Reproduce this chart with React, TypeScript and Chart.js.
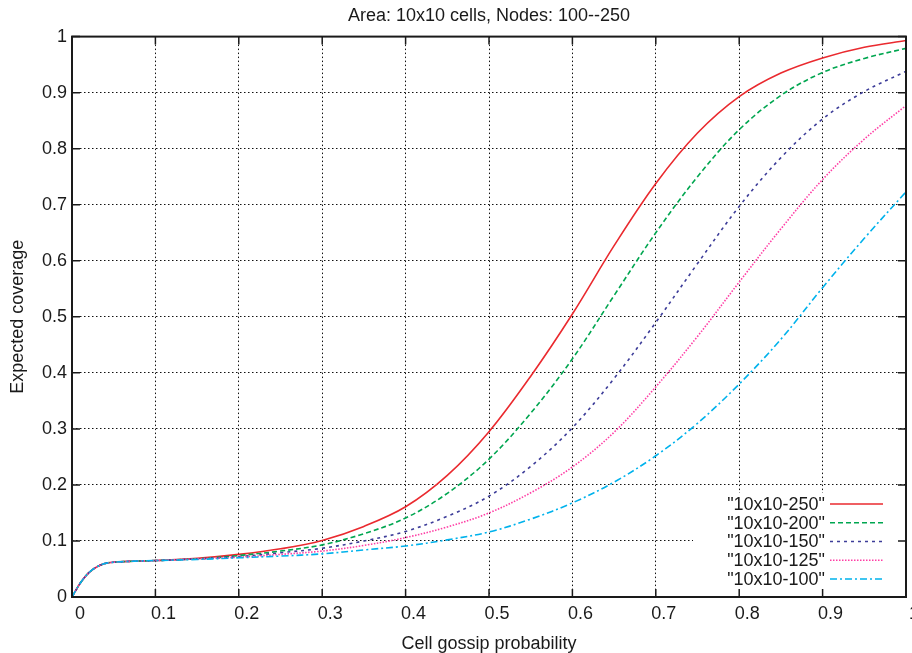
import React, { useEffect, useRef } from 'react';
import { Chart, registerables } from 'chart.js';

Chart.register(...registerables);

// x values (cell gossip probability)
const xValues = [0, 0.01, 0.02, 0.03, 0.04, 0.05, 0.075, 0.1, 0.15, 0.2, 0.25, 0.3, 0.35, 0.4, 0.45, 0.5, 0.55, 0.6, 0.65, 0.7, 0.75, 0.8, 0.85, 0.9, 0.95, 1.0];

// expected coverage per node count
const nodes250 = [0, 0.025, 0.043, 0.054, 0.06, 0.062, 0.064, 0.065, 0.069, 0.076, 0.086, 0.101, 0.126, 0.161, 0.217, 0.295, 0.394, 0.505, 0.627, 0.738, 0.828, 0.893, 0.935, 0.962, 0.981, 0.993];
const nodes200 = [0, 0.025, 0.043, 0.054, 0.06, 0.062, 0.064, 0.065, 0.068, 0.074, 0.082, 0.093, 0.113, 0.141, 0.185, 0.246, 0.328, 0.425, 0.538, 0.65, 0.75, 0.834, 0.895, 0.936, 0.961, 0.979];
const nodes150 = [0, 0.025, 0.043, 0.054, 0.06, 0.062, 0.064, 0.065, 0.068, 0.072, 0.079, 0.087, 0.1, 0.117, 0.144, 0.18, 0.233, 0.302, 0.39, 0.49, 0.595, 0.697, 0.784, 0.853, 0.902, 0.938];
const nodes125 = [0, 0.025, 0.043, 0.054, 0.06, 0.062, 0.064, 0.065, 0.068, 0.071, 0.076, 0.082, 0.092, 0.106, 0.125, 0.15, 0.186, 0.232, 0.294, 0.375, 0.465, 0.562, 0.657, 0.745, 0.817, 0.877];
const nodes100 = [0, 0.025, 0.043, 0.054, 0.06, 0.062, 0.064, 0.065, 0.067, 0.07, 0.073, 0.077, 0.084, 0.091, 0.102, 0.116, 0.139, 0.168, 0.205, 0.252, 0.31, 0.38, 0.46, 0.552, 0.64, 0.723];

const seriesLabels = ['"10x10-250"', '"10x10-200"', '"10x10-150"', '"10x10-125"', '"10x10-100"'];
const seriesColors = ['#ea2a2f', '#00a650', '#3d3d99', '#ff3ea5', '#00b2ec'];
const seriesDashes = [[], [5, 3], [3, 4], [1.5, 1.5], [7, 3, 2, 3]];
const seriesData = [nodes250, nodes200, nodes150, nodes125, nodes100];

const titleText = 'Area: 10x10 cells, Nodes: 100--250';
const xTitle = 'Cell gossip probability';
const yTitle = 'Expected coverage';

const FONT = "'Liberation Sans', Arial, Helvetica, sans-serif";

const fmt = (v: number) => String(Number(v.toFixed(1)));

export default function App() {
  const ref = useRef<HTMLCanvasElement>(null);

  useEffect(() => {
    if (!ref.current) return;

    const framePlugin = {
      id: 'gnuFrame',
      afterDatasetsDraw(chart: any) {
        const { ctx, chartArea } = chart;
        const { left, right, top, bottom } = chartArea;
        const xs = chart.scales.x;
        const ys = chart.scales.y;
        ctx.save();
        // legend box
        const rowH = 18.75;
        const firstY = bottom - 93;
        ctx.fillStyle = '#ffffff';
        ctx.fillRect(right - 213, firstY - 11, 212, bottom - (firstY - 11) - 1);
        ctx.font = `18px ${FONT}`;
        ctx.textAlign = 'right';
        ctx.textBaseline = 'middle';
        chart.data.datasets.forEach((ds: any, i: number) => {
          const y = firstY + i * rowH;
          ctx.fillStyle = '#1a1a1a';
          ctx.fillText(seriesLabels[i], right - 81, y + 1);
          ctx.beginPath();
          ctx.setLineDash(ds.borderDash || []);
          ctx.strokeStyle = ds.borderColor;
          ctx.lineWidth = ds.borderWidth;
          ctx.moveTo(right - 76, y);
          ctx.lineTo(right - 23, y);
          ctx.stroke();
        });
        ctx.setLineDash([]);
        // inward ticks on all sides
        ctx.strokeStyle = '#1a1a1a';
        ctx.lineWidth = 1.5;
        const tl = 8;
        ctx.beginPath();
        xs.ticks.forEach((t: any) => {
          const px = xs.getPixelForValue(t.value);
          ctx.moveTo(px, bottom);
          ctx.lineTo(px, bottom - tl);
          ctx.moveTo(px, top);
          ctx.lineTo(px, top + tl);
        });
        ys.ticks.forEach((t: any) => {
          const py = ys.getPixelForValue(t.value);
          ctx.moveTo(left, py);
          ctx.lineTo(left + tl, py);
          ctx.moveTo(right, py);
          ctx.lineTo(right - tl, py);
        });
        ctx.stroke();
        // frame
        ctx.lineWidth = 2;
        ctx.strokeRect(left, top, right - left, bottom - top);
        ctx.restore();
      },
    };

    const datasets = seriesData.map((d, i) => ({
      label: seriesLabels[i],
      data: xValues.map((x, j) => ({ x, y: d[j] })),
      borderColor: seriesColors[i],
      backgroundColor: seriesColors[i],
      borderWidth: 1.6,
      borderDash: seriesDashes[i],
      pointRadius: 0,
      fill: false,
      tension: 0.35,
      order: 5 - i,
    }));

    const chart = new Chart(ref.current, {
      type: 'line',
      data: { datasets },
      options: {
        animation: false,
        responsive: false,
        maintainAspectRatio: false,
        layout: { padding: { left: 0, right: 6, top: 0, bottom: 0 } },
        plugins: {
          legend: { display: false },
          tooltip: { enabled: false },
          title: {
            display: true,
            text: titleText,
            fullSize: false,
            color: '#1a1a1a',
            font: { family: FONT, size: 18, weight: 'normal' },
            padding: { top: 5, bottom: 10 },
          },
        },
        scales: {
          x: {
            type: 'linear',
            min: 0,
            max: 1,
            border: { display: false, dash: [1.5, 2.5] },
            grid: { color: '#111', lineWidth: 1, drawTicks: false },
            ticks: {
              stepSize: 0.1,
              color: '#1a1a1a',
              font: { family: FONT, size: 18 },
              padding: 6,
              labelOffset: 8,
              maxRotation: 0,
              autoSkip: false,
              callback: (v: any) => fmt(Number(v)),
            },
            title: {
              display: true,
              text: xTitle,
              color: '#1a1a1a',
              font: { family: FONT, size: 18 },
              padding: { top: 0, bottom: -2 },
            },
            afterFit: (s: any) => {
              s.height = 56;
              s.paddingLeft = 0;
              s.paddingRight = 0;
            },
          },
          y: {
            type: 'linear',
            min: 0,
            max: 1,
            border: { display: false, dash: [1.5, 2.5] },
            grid: { color: '#111', lineWidth: 1, drawTicks: false },
            ticks: {
              stepSize: 0.1,
              color: '#1a1a1a',
              font: { family: FONT, size: 18 },
              padding: 5,
              autoSkip: false,
              callback: (v: any) => fmt(Number(v)),
            },
            title: {
              display: true,
              text: yTitle,
              color: '#1a1a1a',
              font: { family: FONT, size: 18 },
              padding: { top: 7, bottom: 0 },
            },
            afterFit: (s: any) => {
              s.width = 72;
              s.paddingTop = 0;
              s.paddingBottom = 0;
            },
          },
        },
      },
      plugins: [framePlugin],
    });

    return () => chart.destroy();
  }, []);

  return (
    <div style={{ position: 'absolute', left: 0, top: 0, width: 912, height: 653, background: '#ffffff' }}>
      <canvas ref={ref} width={912} height={653} style={{ display: 'block', width: 912, height: 653 }} />
    </div>
  );
}
